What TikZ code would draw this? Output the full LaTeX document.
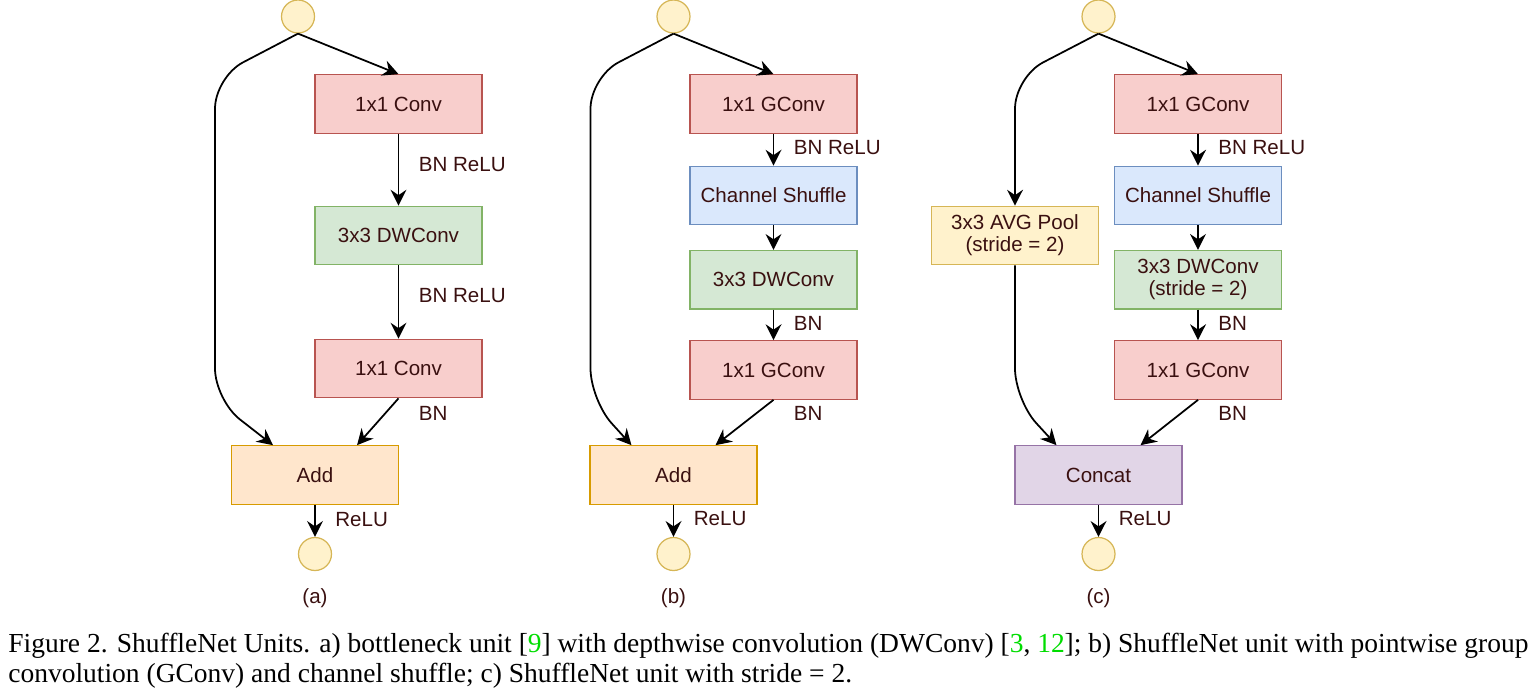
\documentclass[tikz,border=0pt]{standalone}
\usepackage{fontspec}
\setmainfont{Liberation Serif}
\setsansfont{Liberation Sans}
\usetikzlibrary{arrows.meta,calc,positioning}
\definecolor{redfill}{HTML}{F8CECC}
\definecolor{redline}{HTML}{B85450}
\definecolor{greenfill}{HTML}{D5E8D4}
\definecolor{greenline}{HTML}{82B366}
\definecolor{bluefill}{HTML}{DAE8FC}
\definecolor{blueline}{HTML}{6C8EBF}
\definecolor{orangefill}{HTML}{FFE6CC}
\definecolor{orangeline}{HTML}{D79B00}
\definecolor{yellowfill}{HTML}{FFF2CC}
\definecolor{yellowline}{HTML}{D6B656}
\definecolor{purplefill}{HTML}{E1D5E7}
\definecolor{purpleline}{HTML}{9673A6}
\definecolor{textcol}{HTML}{3A1010}
\definecolor{citegreen}{HTML}{00DD00}
\newcommand\boxfont{\sffamily\fontsize{11.7}{12.5}\selectfont}
\newcommand\capfont{\fontsize{15.65}{17}\selectfont}
\tikzset{%
  layer box/.style={draw,line width=0.7pt,minimum width=3.34cm,minimum height=1.17cm,
    inner sep=0pt,align=center,font=\boxfont,text=textcol},
  conv box/.style={layer box,fill=redfill,draw=redline},
  dw box/.style={layer box,fill=greenfill,draw=greenline},
  shuffle box/.style={layer box,fill=bluefill,draw=blueline},
  add box/.style={layer box,fill=orangefill,draw=orangeline},
  pool box/.style={layer box,fill=yellowfill,draw=yellowline},
  concat box/.style={layer box,fill=purplefill,draw=purpleline},
  io circle/.style={circle,draw=yellowline,fill=yellowfill,line width=0.7pt,
    minimum size=0.66cm,inner sep=0pt},
  lbl/.style={font=\boxfont,text=textcol,inner sep=0pt,anchor=west},
  flow/.style={-{Stealth[length=9pt,width=9pt,inset=3pt]},line width=1pt},
  skip/.style={flow,rounded corners=18pt}
}
\begin{document}
\begin{tikzpicture}[x=0.02cm,y=-0.02cm]
\useasboundingbox (0,0) rectangle (1534,691);

% (a) bottleneck unit
\node[io circle] (inA) at (298,16.5) {};
\node[conv box] (convA1) at (398.5,104) {1x1 Conv};
\node[dw box] (dwA) at (398.5,235.5) {3x3 DWConv};
\node[conv box] (convA2) at (398.5,368.5) {1x1 Conv};
\node[add box] (addA) at (315,475) {Add};
\node[io circle] (outA) at (315,554) {};
\node[lbl,anchor=center] (capA) at (315,598) {(a)};
\coordinate (skipA1) at (215,77);
\coordinate (skipA2) at (215,400);

\draw[flow] (inA.south) -- (convA1.north);
\draw[skip] (inA.south) -- (skipA1) -- (skipA2) -- ($(addA.north west)!.25!(addA.north east)$); %shortcut
\draw[flow] (convA1) -- (dwA);
\draw[flow] (dwA) -- (convA2);
\draw[flow] (convA2.south) -- ($(addA.north west)!.75!(addA.north east)$);
\draw[flow] (addA) -- (outA);
\node[lbl] at ($(convA1.south)+(20,31)$) {BN ReLU};
\node[lbl] at ($(dwA.south)+(20,30)$) {BN ReLU};
\node[lbl] at ($(convA2.south)+(20,15)$) {BN};
\node[lbl] at ($(addA.south)+(20,15)$) {ReLU};

% (b) ShuffleNet unit
\node[io circle] (inB) at (673.5,16.5) {};
\node[conv box] (convB1) at (773.5,104) {1x1 GConv};
\node[shuffle box] (shufB) at (773.5,195.5) {Channel Shuffle};
\node[dw box] (dwB) at (773.5,279.7) {3x3 DWConv};
\node[conv box] (convB2) at (773.5,370) {1x1 GConv};
\node[add box] (addB) at (673.5,475) {Add};
\node[io circle] (outB) at (673.5,554) {};
\node[lbl,anchor=center] (capB) at (673.5,598) {(b)};
\coordinate (skipB1) at (590.5,77);
\coordinate (skipB2) at (590.5,400);

\draw[flow] (inB.south) -- (convB1.north);
\draw[skip] (inB.south) -- (skipB1) -- (skipB2) -- ($(addB.north west)!.25!(addB.north east)$); %shortcut
\draw[flow] (convB1) -- (shufB);
\draw[flow] (shufB) -- (dwB);
\draw[flow] (dwB) -- (convB2);
\draw[flow] (convB2.south) -- ($(addB.north west)!.75!(addB.north east)$);
\draw[flow] (addB) -- (outB);
\node[lbl] at ($(convB1.south)+(20,14)$) {BN ReLU};
\node[lbl] at ($(dwB.south)+(20,14)$) {BN};
\node[lbl] at ($(convB2.south)+(20,14)$) {BN};
\node[lbl] at ($(addB.south)+(20,14)$) {ReLU};

% (c) ShuffleNet unit with stride = 2
\node[io circle] (inC) at (1098.5,16.5) {};
\node[conv box] (convC1) at (1198,104) {1x1 GConv};
\node[shuffle box] (shufC) at (1198,195.5) {Channel Shuffle};
\node[dw box] (dwC) at (1198,279.7) {3x3 DWConv\\(stride = 2)};
\node[conv box] (convC2) at (1198,370) {1x1 GConv};
\node[pool box] (poolC) at (1015,235.5) {3x3 AVG Pool\\(stride = 2)};
\node[concat box] (catC) at (1098.5,475) {Concat};
\node[io circle] (outC) at (1098.5,554) {};
\node[lbl,anchor=center] (capC) at (1098.5,598) {(c)};
\coordinate (skipC1) at (1015,77);
\coordinate (skipC2) at (1015,400);

\draw[flow] (inC.south) -- (convC1.north);
\draw[skip] (inC.south) -- (skipC1) -- (poolC.north); %shortcut
\draw[skip] (poolC.south) -- (skipC2) -- ($(catC.north west)!.25!(catC.north east)$);
\draw[flow] (convC1) -- (shufC);
\draw[flow] (shufC) -- (dwC);
\draw[flow] (dwC) -- (convC2);
\draw[flow] (convC2.south) -- ($(catC.north west)!.75!(catC.north east)$);
\draw[flow] (catC) -- (outC);
\node[lbl] at ($(convC1.south)+(20,14)$) {BN ReLU};
\node[lbl] at ($(dwC.south)+(20,14)$) {BN};
\node[lbl] at ($(convC2.south)+(20,14)$) {BN};
\node[lbl] at ($(catC.south)+(20,14)$) {ReLU};

% caption
\node[anchor=base west,inner sep=0pt,font=\capfont] (capline1) at (8,652)
  {Figure 2. ShuffleNet Units. a) bottleneck unit [\textcolor{citegreen}{9}] with depthwise convolution (DWConv) [\textcolor{citegreen}{3}, \textcolor{citegreen}{12}]; b) ShuffleNet unit with pointwise group};
\node[anchor=base west,inner sep=0pt,font=\capfont] (capline2) at (8,682)
  {convolution (GConv) and channel shuffle; c) ShuffleNet unit with stride = 2.};
\end{tikzpicture}
\end{document}
